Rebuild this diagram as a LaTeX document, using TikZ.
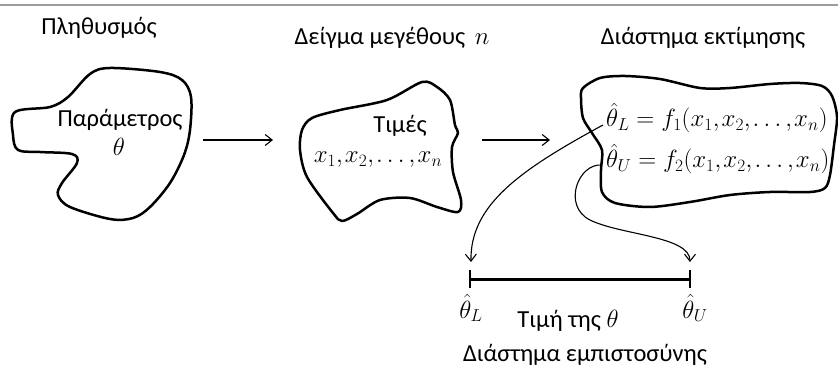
\documentclass[tikz,border=0pt]{standalone}
\usepackage{fontspec}
\setmainfont{Carlito}
\usetikzlibrary{arrows.meta}
\newcommand{\xlist}{x_1,\mkern-1.5mu x_2,\mkern-1.5mu \ldots,\mkern-1.5mu x_n}
\begin{document}
\begin{tikzpicture}[x=1pt,y=-1pt,
  txt/.style={inner sep=0pt,anchor=base,font=\fontsize{24.5}{28}\selectfont},
  mth/.style={inner sep=0pt,anchor=base,font=\fontsize{23.5}{28}\selectfont},
  blob/.style={line width=2.5pt,line join=round},
  conn/.style={line width=1.1pt,-{Straight Barb[length=7pt,width=11pt,line width=1.1pt]}},
  topline/.style={line width=2pt,draw={rgb,255:red,155;green,155;blue,160}}]
\useasboundingbox (0,0) rectangle (838,366);
\draw[topline] (0,5.5) -- (838,5.5);

% population blob
\draw[blob] plot[smooth cycle,tension=0.55] coordinates {(15,112) (50,107) (68,97) (90,74) (110,68) (160,72) (182,80) (191,97) (190,130) (184,155) (170,183) (150,207) (133,218) (110,219) (70,207) (58,195) (62,183) (77,163) (72,154) (40,152) (18,150) (13,135)};
% sample blob
\draw[blob] plot[smooth cycle,tension=0.5] coordinates {(422,82) (437,87) (450,100) (455,125) (458,133) (452,147) (453,172) (461,200) (458,212) (437,207) (410,198) (380,200) (357,214) (342,221) (333,213) (307,177) (300,150) (302,130) (312,118) (340,110) (387,100)};
% interval-estimate blob
\draw[blob] plot[smooth cycle,tension=0.5] coordinates {(583,88) (600,78) (625,76) (660,79) (700,88) (730,88) (770,84) (800,83) (822,86) (832,96) (837,117) (834,145) (830,175) (825,188) (810,192) (770,192) (730,195) (690,202) (650,207) (615,203) (602,192) (601,170) (602,150) (592,133) (583,118) (581,98)};

% titles
\node[txt] (tpop) at (99,35) {Πληθυσμός};
\node[txt] (tsam) at (392,45) {Δείγμα μεγέθους\, $n$};
\node[txt] (test) at (703,45) {Διάστημα εκτίμησης};

% inner texts
\node[txt] (par) at (120,127) {Παράμετρος};
\node[mth] (th) at (119,156) {$\theta$};
\node[txt] (tim) at (400,133) {Τιμές};
\node[mth] (xs) at (378,163) {$\xlist$};
\node[mth,anchor=base west] (eqL) at (606,127) {$\hat{\theta}_L = f_1(\xlist)$};
\node[mth,anchor=base west] (eqU) at (606,168) {$\hat{\theta}_U = f_2(\xlist)$};

% horizontal arrows
\coordinate (a1s) at (203,140); \coordinate (a1e) at (273,140);
\coordinate (a2s) at (482,140); \coordinate (a2e) at (550,140);
\draw[conn] (a1s) -- (a1e);
\draw[conn] (a2s) -- (a2e);

% interval
\coordinate (iL) at (470,279); \coordinate (iU) at (690,279);
\draw[line width=3pt] (iL) -- (iU);
\draw[line width=2pt] ([yshift=-9pt]iL) -- ([yshift=9pt]iL);
\draw[line width=2pt] ([yshift=-9pt]iU) -- ([yshift=9pt]iU);

% curved connectors
\coordinate (cL) at (603,125); \coordinate (eL) at (471,262);
\coordinate (cU) at (602,165); \coordinate (mU) at (590,220); \coordinate (eU) at (690,262);
\draw[conn] (cL) .. controls (520,170) and (470,205) .. (eL);
\draw[conn] (cU) .. controls (578,163) and (562,206) .. (mU) .. controls (620,235) and (690,236) .. (eU);

% bottom labels
\node[mth] (lL) at (471,318) {$\hat{\theta}_L$};
\node[mth] (lU) at (695,318) {$\hat{\theta}_U$};
\node[txt] (val) at (568,327) {Τιμή της $\theta$};
\node[txt] (ci) at (585,361) {Διάστημα εμπιστοσύνης};
\end{tikzpicture}
\end{document}
